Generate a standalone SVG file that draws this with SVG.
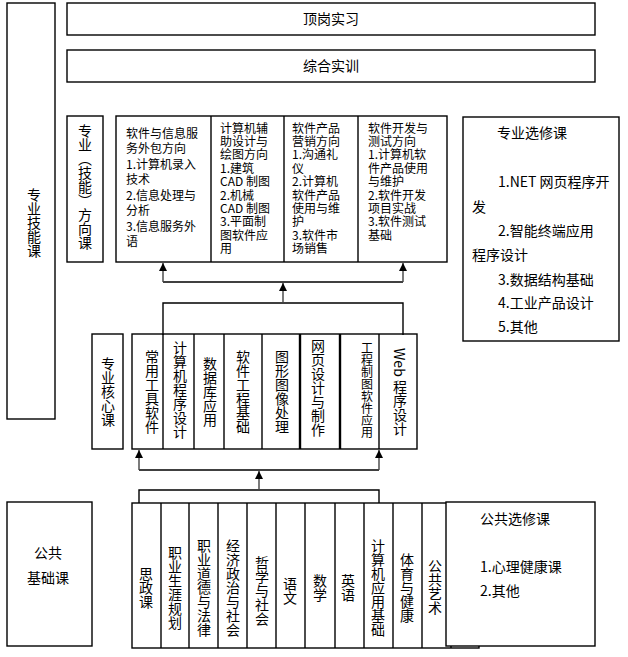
<svg xmlns="http://www.w3.org/2000/svg" width="628" height="657" viewBox="0 0 628 657">
<style>
.box{fill:#fff;stroke:#000;stroke-width:1.4}
.ln{stroke:#000;stroke-width:1.4;fill:none}
.thk{stroke:#000;stroke-width:2.4;fill:none}
.t{font-family:"Noto Sans CJK SC","Noto Sans",sans-serif;fill:#000}
.h14{font-size:14px}
.h12{font-size:12px}
.v{writing-mode:vertical-rl;text-anchor:middle;font-size:14px}
.v12{writing-mode:vertical-rl;text-anchor:middle;font-size:12px}
.con{stroke:#444;stroke-width:1.4;fill:none}
.con2{stroke:#000;stroke-width:1.4;fill:none}
</style>
<defs>
<marker id="ah" viewBox="0 0 8 8" refX="8" refY="4" markerWidth="8" markerHeight="8" markerUnits="userSpaceOnUse" orient="auto">
<path d="M0,0 L8,4 L0,8 Z" fill="#000"/>
</marker>
</defs>
<rect width="628" height="657" fill="#fff"/>

<g id="zhuanye-jineng">
<rect class="box" x="7" y="3" width="48" height="416"/>
<text class="t v" x="34" y="223">专业技能课</text>
</g>

<g id="dinggang">
<rect class="box" x="67" y="3" width="528" height="32"/>
<text class="t h14" x="331" y="24" text-anchor="middle">顶岗实习</text>
</g>

<g id="zonghe">
<rect class="box" x="67" y="50" width="528" height="32"/>
<text class="t h14" x="331" y="71" text-anchor="middle">综合实训</text>
</g>

<g id="fangxiang-label">
<rect class="box" x="67" y="116" width="36" height="146"/>
<text class="t v" x="85" y="187">专业（技能）方向课</text>
</g>

<g id="fangxiang">
<rect class="box" x="116" y="116" width="331" height="146"/>
<line class="ln" x1="211" y1="116" x2="211" y2="262"/>
<line class="ln" x1="284" y1="116" x2="284" y2="262"/>
<line class="ln" x1="358" y1="116" x2="358" y2="262"/>
<text class="t h12" y="137.5">
<tspan x="126">软件与信息服</tspan><tspan x="126" dy="15.5">务外包方向</tspan><tspan x="126" dy="15.5">1.计算机录入</tspan><tspan x="126" dy="15.5">技术</tspan><tspan x="126" dy="15.5">2.信息处理与</tspan><tspan x="126" dy="15.5">分析</tspan><tspan x="126" dy="15.5">3.信息服务外</tspan><tspan x="126" dy="15.5">语</tspan>
</text>
<text class="t h12" y="132.5">
<tspan x="220">计算机辅</tspan><tspan x="220" dy="13.4">助设计与</tspan><tspan x="220" dy="13.4">绘图方向</tspan><tspan x="220" dy="13.4">1.建筑</tspan><tspan x="220" dy="13.4">CAD 制图</tspan><tspan x="220" dy="13.4">2.机械</tspan><tspan x="220" dy="13.4">CAD 制图</tspan><tspan x="220" dy="13.4">3.平面制</tspan><tspan x="220" dy="13.4">图软件应</tspan><tspan x="220" dy="13.4">用</tspan>
</text>
<text class="t h12" y="132.5">
<tspan x="292">软件产品</tspan><tspan x="292" dy="13.4">营销方向</tspan><tspan x="292" dy="13.4">1.沟通礼</tspan><tspan x="292" dy="13.4">仪</tspan><tspan x="292" dy="13.4">2.计算机</tspan><tspan x="292" dy="13.4">软件产品</tspan><tspan x="292" dy="13.4">使用与维</tspan><tspan x="292" dy="13.4">护</tspan><tspan x="292" dy="13.4">3.软件市</tspan><tspan x="292" dy="13.4">场销售</tspan>
</text>
<text class="t h12" y="132.5">
<tspan x="368">软件开发与</tspan><tspan x="368" dy="13.4">测试方向</tspan><tspan x="368" dy="13.4">1.计算机软</tspan><tspan x="368" dy="13.4">件产品使用</tspan><tspan x="368" dy="13.4">与维护</tspan><tspan x="368" dy="13.4">2.软件开发</tspan><tspan x="368" dy="13.4">项目实战</tspan><tspan x="368" dy="13.4">3.软件测试</tspan><tspan x="368" dy="13.4">基础</tspan>
</text>
</g>

<g id="zhuanye-xuanxiu">
<rect class="box" x="463" y="117" width="156" height="224"/>
<text class="t h14">
<tspan x="497" y="138">专业选修课</tspan>
<tspan x="498" y="187">1.NET 网页程序开</tspan>
<tspan x="472" y="212">发</tspan>
<tspan x="498" y="236">2.智能终端应用</tspan>
<tspan x="472" y="260">程序设计</tspan>
<tspan x="498" y="285">3.数据结构基础</tspan>
<tspan x="498" y="308">4.工业产品设计</tspan>
<tspan x="498" y="332">5.其他</tspan>
</text>
</g>

<g id="hexin-label">
<rect class="box" x="92" y="334" width="31" height="115"/>
<text class="t v" x="108" y="392">专业核心课</text>
</g>

<g id="hexin">
<rect class="box" x="132" y="334" width="285" height="115"/>
<line class="ln" x1="163" y1="334" x2="163" y2="449"/>
<line class="ln" x1="194" y1="334" x2="194" y2="449"/>
<line class="ln" x1="224" y1="334" x2="224" y2="449"/>
<line class="ln" x1="262" y1="334" x2="262" y2="449"/>
<line class="thk" x1="300" y1="334" x2="300" y2="449"/>
<line class="thk" x1="340" y1="334" x2="340" y2="449"/>
<line class="ln" x1="379" y1="334" x2="379" y2="449"/>
<text class="t v" x="152" y="392">常用工具软件</text>
<text class="t v" x="180" y="390">计算机程序设计</text>
<text class="t v" x="210" y="392">数据库应用</text>
<text class="t v" x="243" y="392">软件工程基础</text>
<text class="t v" x="282" y="392">图形图像处理</text>
<text class="t v" x="318" y="388">网页设计与制作</text>
<text class="t v12" x="367" y="390">工程制图软件应用</text>
<text class="t v" x="400" y="392">Web 程序设计</text>
</g>

<g id="gonggong-jichu">
<rect class="box" x="7" y="502" width="85" height="144"/>
<text class="t h14" x="48" y="558" text-anchor="middle">公共</text>
<text class="t h14" x="48" y="583" text-anchor="middle">基础课</text>
</g>

<g id="gonggong">
<rect class="box" x="132" y="503" width="347" height="145"/>
<line class="ln" x1="161" y1="503" x2="161" y2="648"/>
<line class="ln" x1="189" y1="503" x2="189" y2="648"/>
<line class="ln" x1="218" y1="503" x2="218" y2="648"/>
<line class="ln" x1="247" y1="503" x2="247" y2="648"/>
<line class="ln" x1="276" y1="503" x2="276" y2="648"/>
<line class="ln" x1="305" y1="503" x2="305" y2="648"/>
<line class="ln" x1="335" y1="503" x2="335" y2="648"/>
<line class="ln" x1="364" y1="503" x2="364" y2="648"/>
<line class="ln" x1="393" y1="503" x2="393" y2="648"/>
<line class="ln" x1="422" y1="503" x2="422" y2="648"/>
<line class="ln" x1="451" y1="503" x2="451" y2="648"/>
<text class="t v" x="146" y="588">思政课</text>
<text class="t v" x="175" y="588">职业生涯规划</text>
<text class="t v" x="204" y="588">职业道德与法律</text>
<text class="t v" x="233" y="588">经济政治与社会</text>
<text class="t v" x="262" y="591">哲学与社会</text>
<text class="t v" x="290" y="591">语文</text>
<text class="t v" x="320" y="588">数学</text>
<text class="t v" x="348" y="588">英语</text>
<text class="t v" x="378" y="588">计算机应用基础</text>
<text class="t v" x="407" y="588">体育与健康</text>
<text class="t v" x="435" y="587">公共艺术</text>
</g>

<g id="gonggong-xuanxiu">
<rect class="box" x="446" y="502" width="149" height="144"/>
<text class="t h14" x="480" y="524">公共选修课</text>
<text class="t h14" x="480" y="572">1.心理健康课</text>
<text class="t h14" x="480" y="596">2.其他</text>
</g>

<g id="connectors">
<path class="con2" d="M163,335 V303 H403 V335"/>
<path class="con" d="M283,303 V283" marker-end="url(#ah)"/>
<path class="con2" d="M163,282 H403"/>
<path class="con" d="M163,282 V263" marker-end="url(#ah)"/>
<path class="con" d="M403,282 V263" marker-end="url(#ah)"/>
<path class="con2" d="M139,503 V490 H379 V503"/>
<path class="con" d="M259,490 V471" marker-end="url(#ah)"/>
<path class="con2" d="M139,470 H379"/>
<path class="con" d="M139,470 V450" marker-end="url(#ah)"/>
<path class="con" d="M379,470 V450" marker-end="url(#ah)"/>
</g>
</svg>
